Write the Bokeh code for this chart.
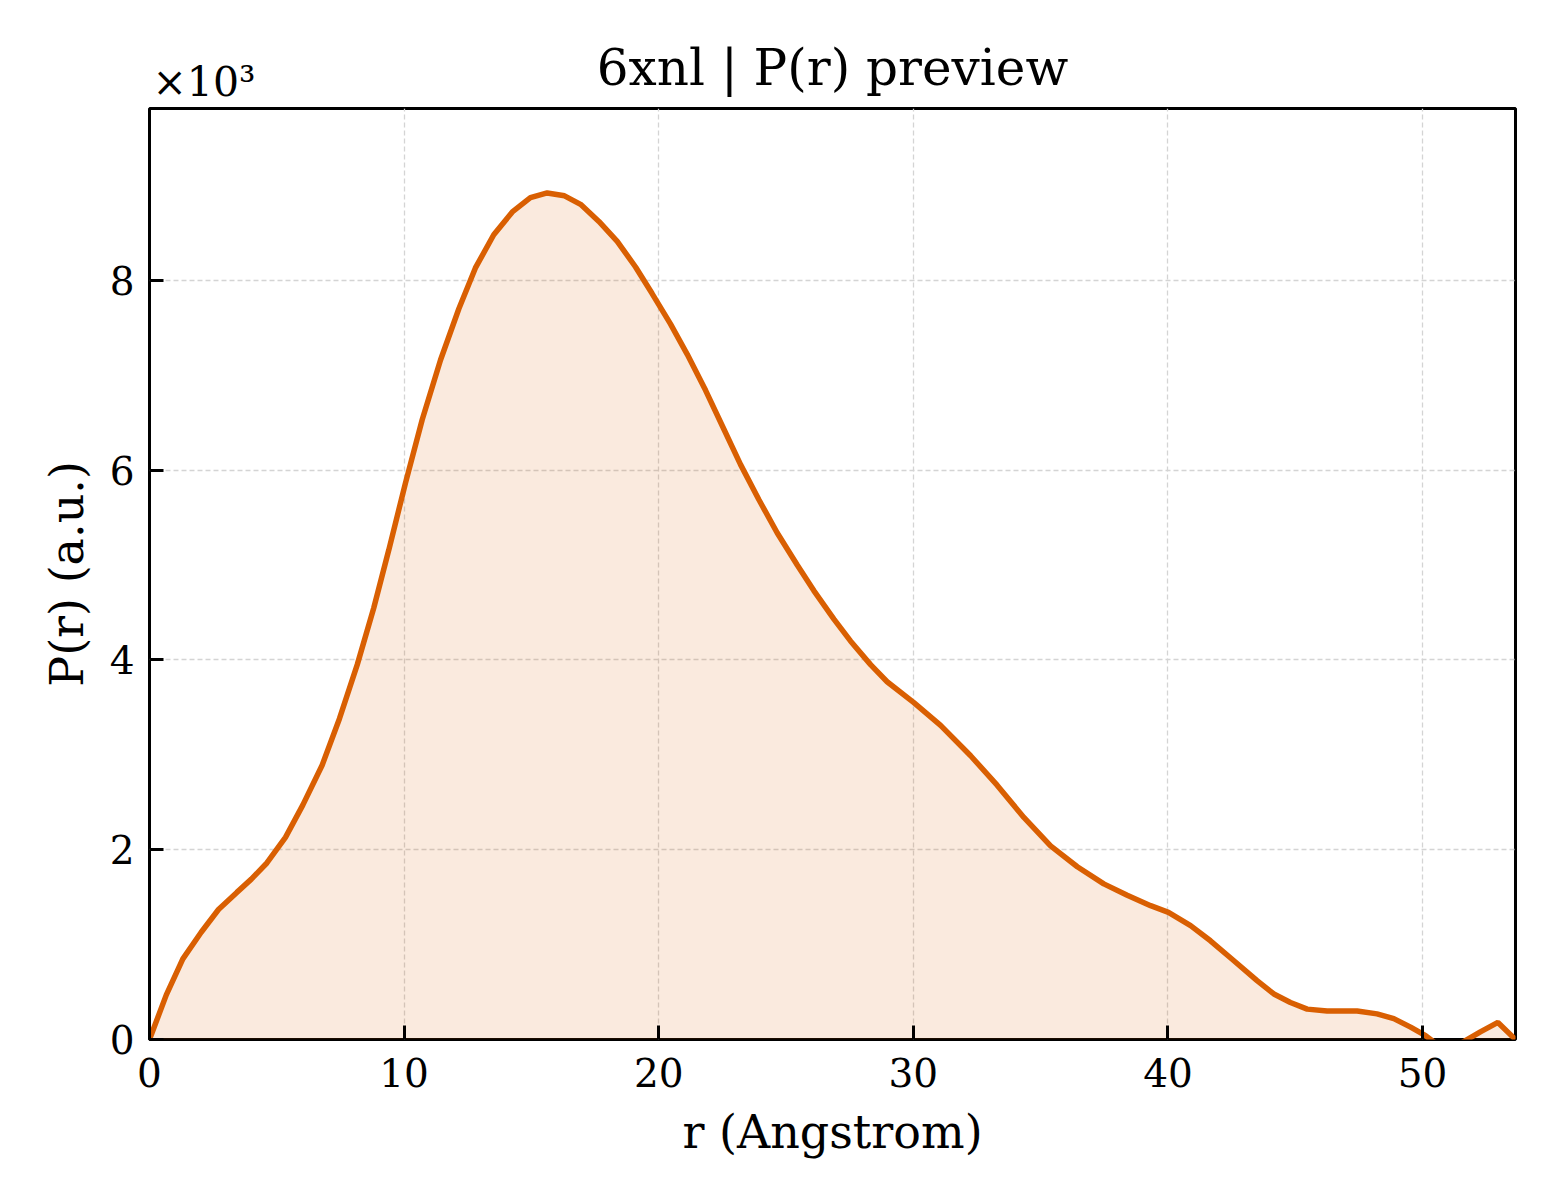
from bokeh.plotting import figure
from bokeh.models import Range1d, FixedTicker, CustomJSTickFormatter, LinearAxis
from bokeh.embed import file_html
from bokeh.resources import INLINE

r = [0.0, 0.66, 1.31, 2.03, 2.71, 3.43, 4.0, 4.61, 5.34, 6.02, 6.78, 7.46,
     8.16, 8.81, 9.40, 10.05, 10.71, 11.43, 12.15, 12.80, 13.52, 14.25, 14.96,
     15.62, 16.30, 16.93, 17.65, 18.37, 19.09, 19.74, 20.46, 21.12, 21.84,
     22.56, 23.21, 23.93, 24.65, 25.44, 26.09, 26.88, 27.53, 28.32, 28.97,
     30.02, 31.07, 32.25, 33.29, 34.34, 35.39, 36.44, 37.48, 38.40, 39.32,
     40.02, 40.89, 41.67, 42.59, 43.50, 44.16, 44.81, 45.47, 46.25, 47.43,
     48.21, 48.87, 49.53, 50.12, 50.81, 51.50, 52.27, 52.96, 53.65]
pr = [0, 470, 850, 1130, 1370, 1550, 1690, 1860, 2130, 2470, 2890, 3380,
      3950, 4550, 5160, 5860, 6530, 7160, 7700, 8130, 8480, 8720, 8870,
      8920, 8890, 8800, 8620, 8410, 8140, 7860, 7540, 7220, 6840,
      6430, 6060, 5690, 5340, 5000, 4730, 4430, 4200, 3950, 3770,
      3550, 3310, 2990, 2680, 2340, 2040, 1820, 1640, 1520, 1410,
      1340, 1200, 1040, 830, 620, 480, 390, 320, 300, 300,
      270, 220, 130, 40, -100, -40, 80, 180, 0]
x_ticks = [0, 10, 20, 30, 40, 50]
y_ticks = [0, 2000, 4000, 6000, 8000]
title_text = "6xnl | P(r) preview"
offset_text = "×10³"

FONT = "DejaVu Serif"
ORANGE = "#d95f02"

p = figure(frame_width=1366, frame_height=931, output_backend="svg",
           toolbar_location=None, x_range=Range1d(0, 53.65), y_range=Range1d(0, 9810),
           min_border_left=149, min_border_right=45, min_border_top=108,
           min_border_bottom=150)

p.varea(x=r, y1=0, y2=pr, fill_color=ORANGE, fill_alpha=0.13)
p.line(r, pr, line_color=ORANGE, line_width=5.5)

p.outline_line_color = "black"
p.outline_line_width = 3
p.outline_line_alpha = 1

p.xaxis.ticker = FixedTicker(ticks=x_ticks)
p.yaxis.ticker = FixedTicker(ticks=y_ticks)
p.yaxis.formatter = CustomJSTickFormatter(code="return (tick / 1000).toFixed(0);")

for ax in (p.xaxis, p.yaxis):
    ax.axis_line_color = None
    ax.major_tick_in = 14
    ax.major_tick_out = 0
    ax.major_tick_line_width = 3
    ax.major_tick_line_color = "black"
    ax.minor_tick_line_color = None
    ax.major_label_text_font = FONT
    ax.major_label_text_font_size = "39px"
    ax.major_label_text_color = "black"
    ax.axis_label_text_font = FONT
    ax.axis_label_text_font_size = "46px"
    ax.axis_label_text_font_style = "normal"
    ax.axis_label_text_color = "black"

p.xaxis.axis_label = "r (Angstrom)"
p.yaxis.axis_label = "P(r) (a.u.)"
p.xaxis.major_label_standoff = 18
p.yaxis.major_label_standoff = 15
p.xaxis.axis_label_standoff = 15
p.yaxis.axis_label_standoff = 13

# top: scale factor (as a lone tick label) and the title (as the axis label)
top = LinearAxis(ticker=FixedTicker(ticks=[2.14]),
                 formatter=CustomJSTickFormatter(code="return '%s';" % offset_text),
                 axis_label=title_text)
top.axis_line_color = None
top.major_tick_line_color = None
top.minor_tick_line_color = None
top.major_tick_in = 0
top.major_tick_out = 0
top.major_label_standoff = 3
top.major_label_text_font = FONT
top.major_label_text_font_size = "41px"
top.major_label_text_color = "black"
top.axis_label_text_font = FONT
top.axis_label_text_font_size = "50px"
top.axis_label_text_font_style = "normal"
top.axis_label_text_color = "black"
top.axis_label_standoff = -42
p.add_layout(top, "above")

p.grid.grid_line_color = "#d4d4d4"
p.grid.grid_line_width = 1.3
p.grid.grid_line_dash = "5 3"

open("out.html", "w").write(file_html(p, INLINE))
